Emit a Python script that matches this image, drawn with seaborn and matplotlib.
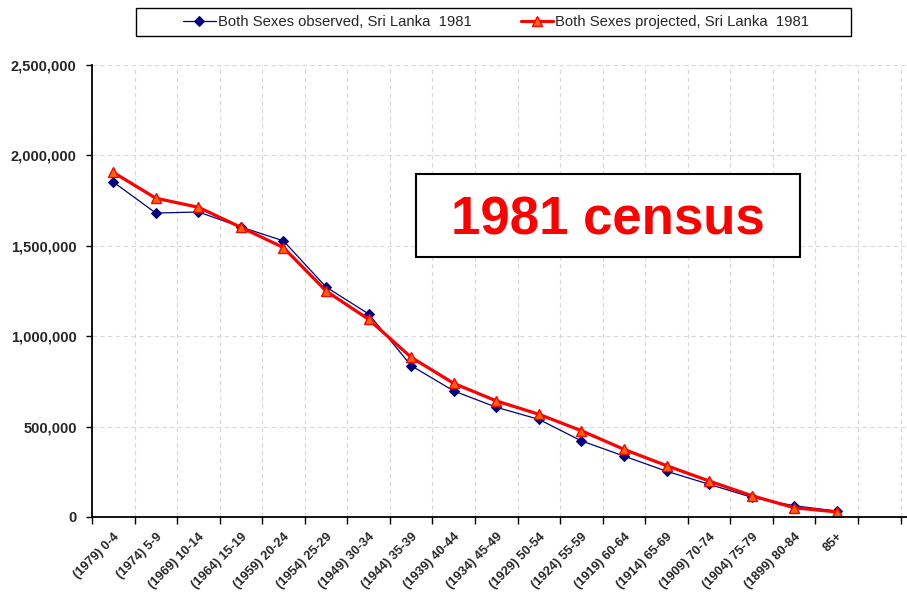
import numpy as np
import pandas as pd
import matplotlib
matplotlib.use("Agg")
import matplotlib.pyplot as plt
import seaborn as sns
from matplotlib.patches import Rectangle
from matplotlib.ticker import FuncFormatter, MultipleLocator

# age groups (with birth cohort) for the 1981 census
age_groups = ["(1979) 0-4", "(1974) 5-9", "(1969) 10-14", "(1964) 15-19",
              "(1959) 20-24", "(1954) 25-29", "(1949) 30-34", "(1944) 35-39",
              "(1939) 40-44", "(1934) 45-49", "(1929) 50-54", "(1924) 55-59",
              "(1919) 60-64", "(1914) 65-69", "(1909) 70-74", "(1904) 75-79",
              "(1899) 80-84", "85+"]

observed = [1853000, 1681000, 1687000, 1604000, 1527000, 1272000, 1123000,
            837000, 697000, 607000, 540000, 421000, 337000, 253000, 181000,
            109000, 62000, 33000]

projected = [1906000, 1763000, 1713000, 1602000, 1490000, 1250000, 1093000,
             883000, 739000, 642000, 568000, 477000, 374000, 284000, 199000,
             118000, 51000, 28000]

obs_label = "Both Sexes observed, Sri Lanka  1981"
proj_label = "Both Sexes projected, Sri Lanka  1981"

sns.set_style("white")
plt.rcParams["font.family"] = ["Liberation Sans", "DejaVu Sans"]

df = pd.DataFrame({"pos": np.arange(len(age_groups)),
                   "observed": observed, "projected": projected})

fig = plt.figure(figsize=(9.07, 5.95), dpi=100)
ax = fig.add_axes([0.1014, 0.1311, 0.8986, 0.7597])

sns.lineplot(data=df, x="pos", y="observed", ax=ax, sort=False,
             color="#000080", linewidth=0.9, marker="D", markersize=5.5,
             markerfacecolor="#000080", markeredgecolor="#000080",
             label=obs_label)
sns.lineplot(data=df, x="pos", y="projected", ax=ax, sort=False,
             color="#FF0000", linewidth=2.3, marker="^", markersize=7.5,
             markerfacecolor="#FF6600", markeredgecolor="#FF0000",
             markeredgewidth=1.0, label=proj_label)

ax.set_xlim(-0.5, 18.65)
ax.set_ylim(0, 2500000)
ax.set_xlabel("")
ax.set_ylabel("")

# category labels at centres, ticks and grid at boundaries
ax.set_xticks(np.arange(len(age_groups)))
ax.set_xticklabels(age_groups, rotation=45, ha="right", rotation_mode="anchor",
                   fontsize=9.2, fontweight="bold")
ax.xaxis.set_minor_locator(MultipleLocator(1, offset=0.5))
ax.tick_params(axis="x", which="major", length=0, pad=10)
ax.tick_params(axis="x", which="minor", length=5, width=1, color="black",
               direction="out", bottom=True)

ax.yaxis.set_major_locator(MultipleLocator(500000))
ax.yaxis.set_major_formatter(FuncFormatter(lambda v, p: f"{int(v):,}"))
ax.tick_params(axis="y", length=4, width=1, color="black", direction="out",
               left=True, pad=7)
for lbl in ax.get_yticklabels():
    lbl.set_fontweight("bold")
    lbl.set_fontsize(10.5)

ax.grid(False)
ax.xaxis.grid(True, which="minor", linestyle=(0, (4, 3)), color="#d9d9d9",
              linewidth=0.8)
ax.yaxis.grid(True, which="major", linestyle=(0, (4, 3)), color="#d9d9d9",
              linewidth=0.8)
ax.set_axisbelow(True)

for side in ["top", "right"]:
    ax.spines[side].set_visible(False)
for side in ["left", "bottom"]:
    ax.spines[side].set_color("black")
    ax.spines[side].set_linewidth(1.3)

# legend: entries without frame, plus a wider frame drawn separately
handles, labels = ax.get_legend_handles_labels()
ax.get_legend().remove()
fig.legend(handles, labels, loc="center", bbox_to_anchor=(0.547, 0.963),
           ncol=2, frameon=False, fontsize=10.7,
           handlelength=2.2, handletextpad=0.15, columnspacing=3.3,
           borderpad=0.2)
fig.add_artist(Rectangle((0.1499, 0.9395), 0.7884, 0.047,
                         transform=fig.transFigure, fill=False,
                         edgecolor="black", linewidth=1.0))

# annotation box
fig.add_artist(Rectangle((0.4587, 0.568), 0.4234, 0.1395,
                         transform=fig.transFigure, facecolor="white",
                         edgecolor="black", linewidth=1.5, zorder=5))
fig.text(0.6703, 0.6055, "1981 census", ha="center", va="baseline",
         fontsize=38, fontweight="bold", color="#FF0000", zorder=6)

fig.savefig("out.png", dpi=100)
